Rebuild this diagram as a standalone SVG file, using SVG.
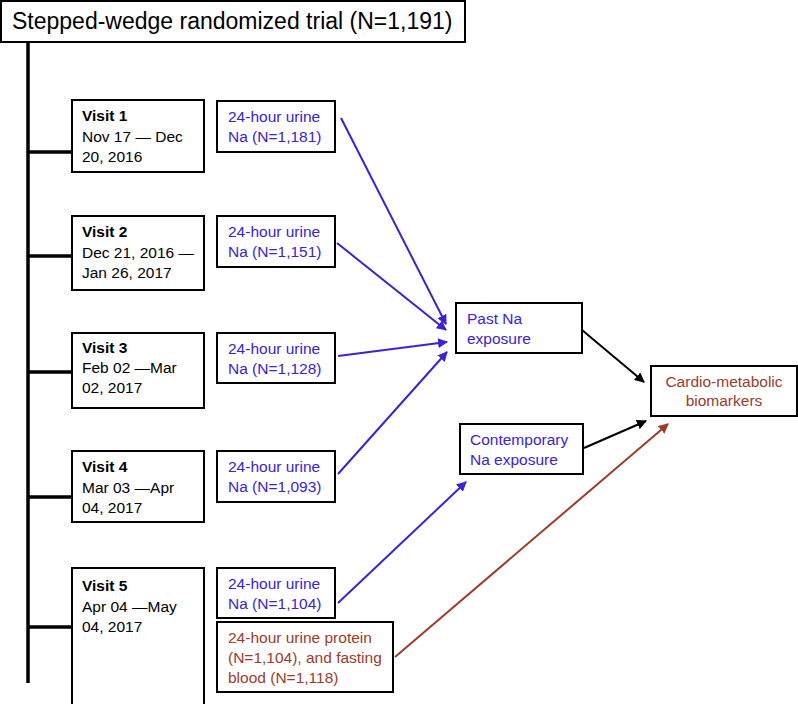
<svg xmlns="http://www.w3.org/2000/svg" width="798" height="704" viewBox="0 0 798 704">
<defs>
<style>
.box{fill:#fff;stroke:#000;stroke-width:2}
text{font-family:"Liberation Sans",Arial,sans-serif;font-size:15.5px;fill:#000}
.b{fill:#3a22d8}
.r{fill:#9c3b2b}
.bold{font-weight:bold}
.title{font-size:23px}
.tick{stroke:#000;stroke-width:3.5}
.ab{stroke:#3a22d8;stroke-width:2;fill:none;marker-end:url(#mb)}
.ak{stroke:#000;stroke-width:2;fill:none;marker-end:url(#mk)}
.ar{stroke:#9c3b2b;stroke-width:2;fill:none;marker-end:url(#mr)}
</style>
<marker id="mb" viewBox="0 0 10 10" refX="9" refY="5" markerWidth="5" markerHeight="5" orient="auto" markerUnits="strokeWidth"><path d="M0,0L10,5L0,10z" fill="#3a22d8"/></marker>
<marker id="mk" viewBox="0 0 10 10" refX="9" refY="5" markerWidth="5" markerHeight="5" orient="auto" markerUnits="strokeWidth"><path d="M0,0L10,5L0,10z" fill="#000"/></marker>
<marker id="mr" viewBox="0 0 10 10" refX="9" refY="5" markerWidth="5" markerHeight="5" orient="auto" markerUnits="strokeWidth"><path d="M0,0L10,5L0,10z" fill="#9c3b2b"/></marker>
</defs>
<rect width="798" height="704" fill="#fff"/>
<g id="timeline">
<line class="tick" x1="28" y1="42" x2="28" y2="683"/>
<line class="tick" x1="28" y1="152" x2="72" y2="152"/>
<line class="tick" x1="28" y1="256" x2="72" y2="256"/>
<line class="tick" x1="28" y1="372" x2="72" y2="372"/>
<line class="tick" x1="28" y1="497" x2="72" y2="497"/>
<line class="tick" x1="28" y1="627" x2="72" y2="627"/>
</g>
<g id="title">
<rect class="box" x="1" y="1" width="464" height="41"/>
<text class="title" x="12" y="29">Stepped-wedge randomized trial (N=1,191)</text>
</g>
<g id="visit1">
<rect class="box" x="72" y="100" width="132" height="72"/>
<text x="82" y="121"><tspan class="bold">Visit 1</tspan><tspan x="82" y="142">Nov 17 — Dec</tspan><tspan x="82" y="162">20, 2016</tspan></text>
</g>
<g id="visit2">
<rect class="box" x="72" y="216" width="132" height="74"/>
<text x="82" y="237"><tspan class="bold">Visit 2</tspan><tspan x="82" y="258">Dec 21, 2016 —</tspan><tspan x="82" y="278">Jan 26, 2017</tspan></text>
</g>
<g id="visit3">
<rect class="box" x="72" y="333" width="132" height="75"/>
<text x="82" y="353"><tspan class="bold">Visit 3</tspan><tspan x="82" y="373">Feb 02 —Mar</tspan><tspan x="82" y="393">02, 2017</tspan></text>
</g>
<g id="visit4">
<rect class="box" x="72" y="451" width="132" height="71"/>
<text x="82" y="472"><tspan class="bold">Visit 4</tspan><tspan x="82" y="493">Mar 03 —Apr</tspan><tspan x="82" y="513">04, 2017</tspan></text>
</g>
<g id="visit5">
<rect class="box" x="72" y="568" width="132" height="140"/>
<text x="82" y="591"><tspan class="bold">Visit 5</tspan><tspan x="82" y="612">Apr 04 —May</tspan><tspan x="82" y="632">04, 2017</tspan></text>
</g>
<g id="urine1">
<rect class="box" x="217" y="101" width="118" height="51"/>
<text class="b" x="228" y="122">24-hour urine<tspan x="228" y="142">Na (N=1,181)</tspan></text>
</g>
<g id="urine2">
<rect class="box" x="217" y="216" width="118" height="51"/>
<text class="b" x="228" y="237">24-hour urine<tspan x="228" y="257">Na (N=1,151)</tspan></text>
</g>
<g id="urine3">
<rect class="box" x="217" y="333" width="118" height="50"/>
<text class="b" x="228" y="354">24-hour urine<tspan x="228" y="374">Na (N=1,128)</tspan></text>
</g>
<g id="urine4">
<rect class="box" x="217" y="451" width="118" height="51"/>
<text class="b" x="228" y="472">24-hour urine<tspan x="228" y="492">Na (N=1,093)</tspan></text>
</g>
<g id="urine5">
<rect class="box" x="217" y="568" width="118" height="50"/>
<text class="b" x="228" y="589">24-hour urine<tspan x="228" y="609">Na (N=1,104)</tspan></text>
</g>
<g id="protein">
<rect class="box" x="217" y="622" width="176" height="70"/>
<text class="r" x="228" y="643">24-hour urine protein<tspan x="228" y="663">(N=1,104), and fasting</tspan><tspan x="228" y="683">blood (N=1,118)</tspan></text>
</g>
<g id="past">
<rect class="box" x="456" y="303" width="126" height="50"/>
<text class="b" x="467" y="324">Past Na<tspan x="467" y="344">exposure</tspan></text>
</g>
<g id="contemporary">
<rect class="box" x="460" y="424" width="123" height="50"/>
<text class="b" x="470" y="445">Contemporary<tspan x="470" y="465">Na exposure</tspan></text>
</g>
<g id="cardio">
<rect class="box" x="651" y="366" width="146" height="50"/>
<text class="r" x="724" y="387" text-anchor="middle">Cardio-metabolic<tspan x="724" y="406">biomarkers</tspan></text>
</g>
<g id="connectors">
<line class="ab" x1="341" y1="118" x2="446" y2="324"/>
<line class="ab" x1="337" y1="243" x2="446" y2="330"/>
<line class="ab" x1="338" y1="356" x2="447" y2="342"/>
<line class="ab" x1="338" y1="474" x2="447" y2="352"/>
<line class="ab" x1="338" y1="603" x2="466" y2="482"/>
<line class="ak" x1="582" y1="330" x2="644" y2="382"/>
<line class="ak" x1="584" y1="448" x2="646" y2="421"/>
<line class="ar" x1="395" y1="657" x2="668" y2="424"/>
</g>
</svg>
